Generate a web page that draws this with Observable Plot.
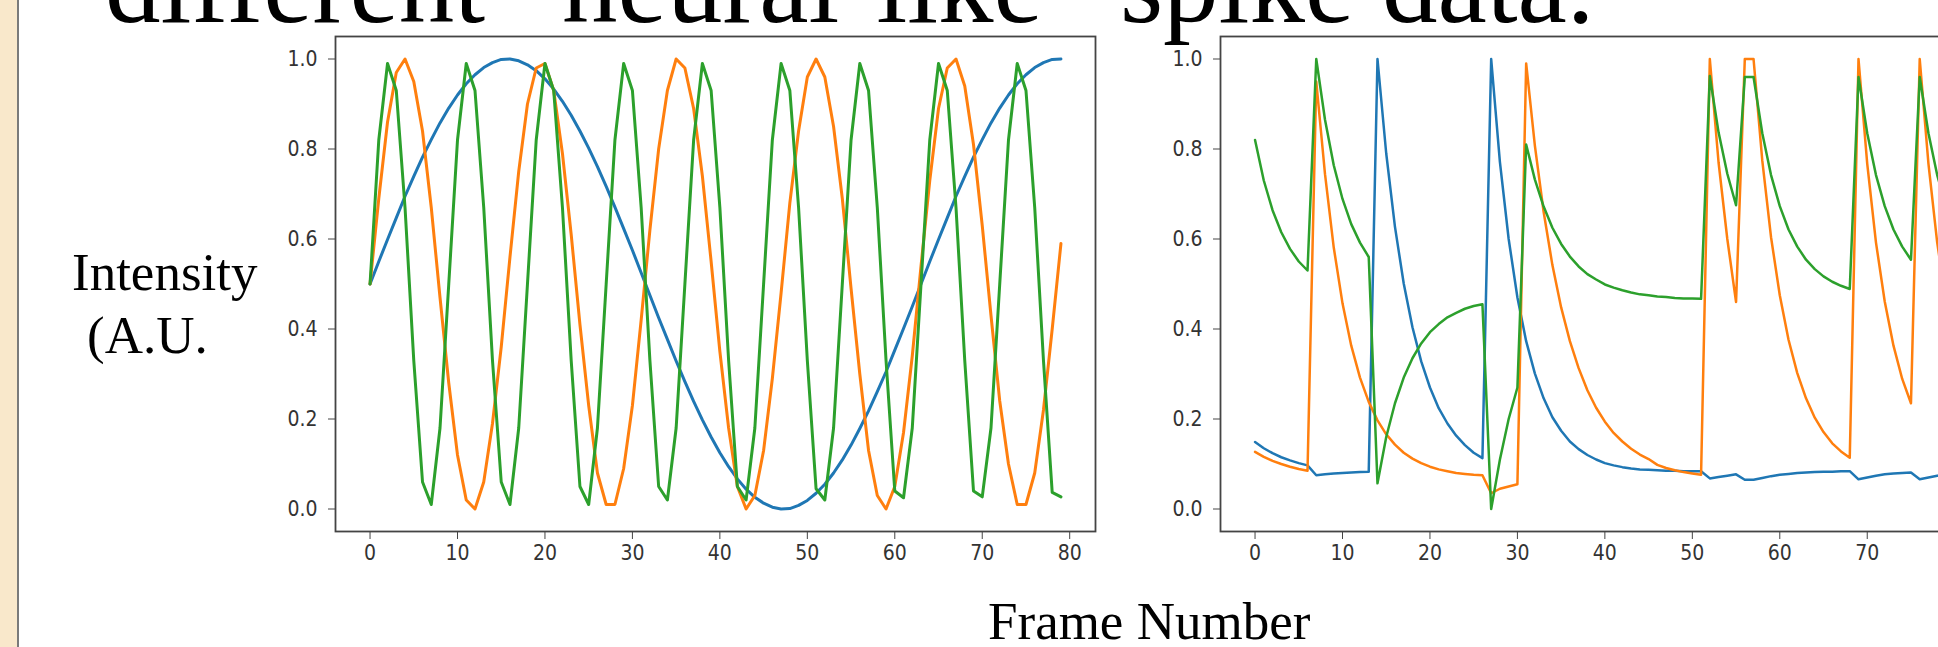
<!DOCTYPE html>
<html>
<head>
<meta charset="utf-8">
<script src="https://cdn.jsdelivr.net/npm/d3@7"></script>
<script src="https://cdn.jsdelivr.net/npm/@observablehq/plot@0.6"></script>
<style>
  html, body { margin: 0; padding: 0; width: 1938px; height: 647px; overflow: hidden; background: #ffffff; }
  #strip { position: absolute; left: 0; top: 0; width: 17px; height: 647px; background: #f9e8cb; border-right: 2px solid #7a7a7a; }
  .chart { position: absolute; top: 0; width: 870px; height: 600px; }
  .chart svg { max-width: none !important; width: 870px; height: 600px; display: block; }
  #overlay { position: absolute; left: 0; top: 0; pointer-events: none; }
</style>
</head>
<body>
<div id="strip"></div>
<div id="c1" class="chart" style="left:250px"></div>
<div id="c2" class="chart" style="left:1135px"></div>
<svg id="overlay" width="1938" height="647"></svg>
<script>
// ---------- text ----------
const titleText = "different \u201Cneural-like\u201D spike data.";
const yLabelLine1 = "Intensity";
const yLabelLine2 = "(A.U.";
const xLabelText = "Frame Number";

// ---------- ticks ----------
const xTicksLeft = [0, 10, 20, 30, 40, 50, 60, 70, 80];
const xTicksRight = [0, 10, 20, 30, 40, 50, 60, 70];   // 80 lies beyond the slide edge
const yTicks = [0.0, 0.2, 0.4, 0.6, 0.8, 1.0];

// ---------- series colours ----------
const seriesColors = ["#1f77b4", "#ff7f0e", "#2ca02c"];

// ---------- left panel: periodic signals (frames 0..79) ----------
const blueLeft = [0.500,0.550,0.599,0.647,0.695,0.739,0.782,0.821,0.858,0.891,
  0.920,0.945,0.965,0.981,0.992,0.999,1.000,0.996,0.987,0.974,
  0.956,0.933,0.906,0.875,0.840,0.802,0.761,0.717,0.671,0.623,
  0.575,0.525,0.475,0.425,0.377,0.329,0.283,0.239,0.198,0.160,
  0.125,0.094,0.067,0.044,0.026,0.013,0.004,0.000,0.001,0.008,
  0.019,0.035,0.055,0.080,0.109,0.142,0.179,0.218,0.261,0.305,
  0.353,0.401,0.450,0.500,0.550,0.599,0.647,0.695,0.739,0.782,
  0.821,0.858,0.891,0.920,0.945,0.965,0.981,0.992,0.999,1.000];

const orangeLeft = [0.50,0.69,0.86,0.97,1.00,0.95,0.84,0.67,0.47,0.28,
  0.12,0.02,0.00,0.06,0.19,0.36,0.56,0.75,0.90,0.98,
  0.99,0.93,0.79,0.61,0.41,0.23,0.08,0.01,0.01,0.09,
  0.23,0.42,0.62,0.80,0.93,1.00,0.98,0.89,0.74,0.55,
  0.35,0.18,0.05,0.00,0.03,0.13,0.29,0.48,0.68,0.84,
  0.96,1.00,0.96,0.85,0.69,0.49,0.30,0.13,0.03,0.00,
  0.05,0.17,0.34,0.54,0.73,0.89,0.98,1.00,0.94,0.81,
  0.63,0.43,0.24,0.10,0.01,0.01,0.08,0.22,0.40,0.59];

const greenLeft = [0.50,0.82,0.99,0.93,0.67,0.33,0.06,0.01,0.18,
  0.50,0.82,0.99,0.93,0.67,0.33,0.06,0.01,0.18,
  0.50,0.82,0.99,0.93,0.67,0.33,0.05,0.01,0.18,
  0.50,0.82,0.99,0.93,0.67,0.33,0.05,0.02,0.18,
  0.50,0.82,0.99,0.93,0.67,0.33,0.05,0.02,0.18,
  0.50,0.82,0.99,0.93,0.67,0.33,0.045,0.02,0.18,
  0.50,0.82,0.99,0.93,0.67,0.33,0.04,0.025,0.18,
  0.50,0.82,0.99,0.93,0.67,0.33,0.04,0.027,0.18,
  0.50,0.82,0.99,0.93,0.67,0.33,0.037,0.027];

// ---------- right panel: spike-like signals (frames 0..79) ----------
const blueRight = [0.149,0.135,0.124,0.115,0.108,0.102,0.097,0.075,0.077,0.079,
  0.080,0.081,0.082,0.083,1.000,0.790,0.627,0.501,0.404,0.328,
  0.270,0.224,0.190,0.163,0.142,0.125,0.113,1.000,0.771,0.600,
  0.470,0.373,0.301,0.246,0.204,0.174,0.150,0.133,0.120,0.110,
  0.102,0.097,0.093,0.090,0.088,0.087,0.086,0.085,0.085,0.084,
  0.084,0.084,0.068,0.071,0.074,0.077,0.065,0.065,0.069,0.073,
  0.076,0.078,0.080,0.081,0.082,0.083,0.083,0.084,0.084,0.066,
  0.070,0.074,0.077,0.079,0.080,0.081,0.066,0.070,0.074,0.077];

const orangeRight = [0.127,0.116,0.107,0.100,0.094,0.089,0.085,0.950,0.744,0.581,
  0.457,0.363,0.292,0.238,0.197,0.166,0.143,0.125,0.112,0.102,
  0.094,0.088,0.084,0.080,0.078,0.076,0.075,0.035,0.045,0.050,
  0.055,0.990,0.807,0.660,0.542,0.448,0.373,0.313,0.264,0.225,
  0.194,0.169,0.150,0.134,0.121,0.111,0.098,0.091,0.086,0.082,
  0.079,0.076,1.000,0.770,0.600,0.460,1.000,1.000,0.774,0.604,
  0.475,0.376,0.302,0.246,0.203,0.171,0.146,0.128,0.114,1.000,
  0.767,0.592,0.461,0.363,0.289,0.235,1.000,0.767,0.592,0.461];

const greenRight = [0.820,0.730,0.664,0.615,0.578,0.550,0.530,1.000,0.865,0.764,
  0.689,0.633,0.592,0.560,0.057,0.160,0.235,0.292,0.335,0.368,
  0.393,0.411,0.426,0.436,0.445,0.451,0.455,0.000,0.110,0.200,
  0.270,0.810,0.732,0.672,0.625,0.589,0.561,0.539,0.522,0.510,
  0.499,0.492,0.486,0.481,0.477,0.475,0.472,0.471,0.469,0.468,
  0.468,0.467,0.962,0.837,0.745,0.675,0.960,0.960,0.835,0.742,
  0.673,0.621,0.583,0.554,0.533,0.517,0.505,0.496,0.489,0.960,
  0.835,0.742,0.673,0.621,0.583,0.554,0.960,0.835,0.742,0.673];

// ---------- chart builder ----------
const tickFont = "'DejaVu Sans Condensed', 'DejaVu Sans', sans-serif";

function makePanel(series, lineWidth, xTicks) {
  return Plot.plot({
    width: 870,
    height: 600,
    marginLeft: 85,
    marginRight: 25,
    marginTop: 36,
    marginBottom: 69,
    x: { domain: [-3.95, 82.95] },
    y: { domain: [-0.05, 1.05] },
    style: { background: "transparent", color: "#333", fontFamily: tickFont, fontSize: "21px", maxWidth: "none" },
    marks: [
      ...series.map((s, i) => Plot.lineY(s, { stroke: seriesColors[i], strokeWidth: lineWidth })),
      Plot.frame({ stroke: "#444", strokeWidth: 1.8 }),
      Plot.axisX({ ticks: xTicks, tickSize: 8, tickPadding: 6, label: null, fontSize: 21, stroke: "#444", fill: "#333" }),
      Plot.axisY({ ticks: yTicks, tickSize: 7, tickPadding: 11, tickFormat: d3.format(".1f"), label: null, fontSize: 21, stroke: "#444", fill: "#333" })
    ]
  });
}

document.getElementById("c1").append(makePanel([blueLeft, orangeLeft, greenLeft], 3.0, xTicksLeft));
document.getElementById("c2").append(makePanel([blueRight, orangeRight, greenRight], 2.5, xTicksRight));

// ---------- slide text ----------
const serif = "'Liberation Serif', 'Times New Roman', serif";
const ov = d3.select("#overlay");
ov.append("text").attr("x", 105).attr("y", 22).attr("font-family", serif).attr("font-size", 111).attr("fill", "#000").text(titleText);
ov.append("text").attr("x", 72).attr("y", 290).attr("font-family", serif).attr("font-size", 53).attr("fill", "#000").text(yLabelLine1);
ov.append("text").attr("x", 87).attr("y", 353).attr("font-family", serif).attr("font-size", 53).attr("fill", "#000").text(yLabelLine2);
ov.append("text").attr("x", 988).attr("y", 639).attr("font-family", serif).attr("font-size", 53).attr("fill", "#000").text(xLabelText);
</script>
</body>
</html>
